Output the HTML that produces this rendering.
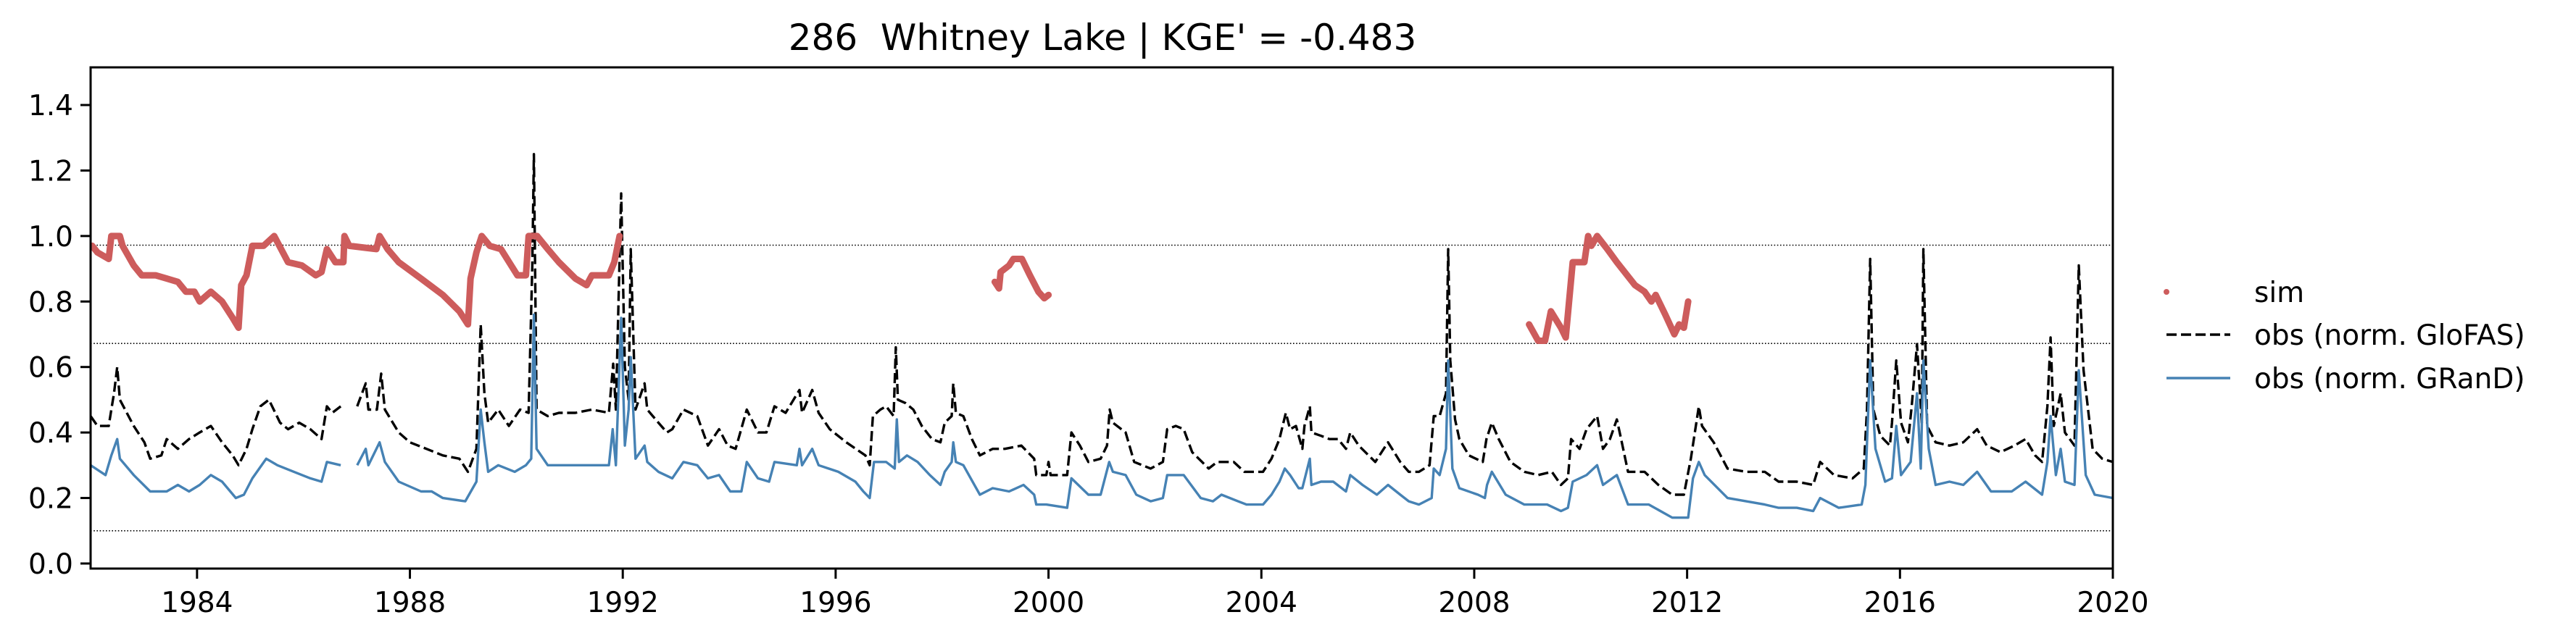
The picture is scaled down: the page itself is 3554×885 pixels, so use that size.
<!DOCTYPE html>
<html><head><meta charset="utf-8"><style>
html,body{margin:0;padding:0;background:#fff;}
svg{display:block;font-family:"DejaVu Sans","Liberation Sans",sans-serif;}
</style></head><body>
<svg id="chart" width="3554" height="885" viewBox="0 0 3554 885" xmlns="http://www.w3.org/2000/svg">
<rect x="0" y="0" width="3554" height="885" fill="#fff"/>
<text x="1521" y="69" font-size="50" text-anchor="middle" fill="#000" style="white-space:pre" xml:space="preserve">286  Whitney Lake | KGE' = -0.483</text>
<g id="grid"></g>
<g id="series"></g>
<g id="axes"></g>
<g id="legend">
  <circle cx="2989" cy="403" r="4" fill="#cd5c5c"/>
  <text x="3110" y="417" font-size="39" fill="#000">sim</text>
  <line x1="2989" y1="462" x2="3077" y2="462" stroke="#000" stroke-width="3.5" stroke-dasharray="14,6"/>
  <text x="3110" y="476" font-size="39" fill="#000">obs (norm. GloFAS)</text>
  <line x1="2989" y1="522" x2="3077" y2="522" stroke="#4682b4" stroke-width="3.5"/>
  <text x="3110" y="536" font-size="39" fill="#000">obs (norm. GRanD)</text>
</g>
</svg>
<script>
const xTicks = [1984, 1988, 1992, 1996, 2000, 2004, 2008, 2012, 2016, 2020];
const yTicks = [0.0, 0.2, 0.4, 0.6, 0.8, 1.0, 1.2, 1.4];
const refLevels = [0.972, 0.672, 0.10];

const simYears = [1982.03,1982.13,1982.34,1982.39,1982.55,1982.60,1982.81,1982.96,1983.22,1983.43,1983.64,1983.79,1983.95,1984.05,1984.26,1984.47,1984.67,1984.78,1984.83,1984.93,1985.04,1985.25,1985.45,1985.71,1985.97,1986.23,1986.34,1986.44,1986.60,1986.75,1986.77,1986.86,1987.37,1987.43,1987.58,1987.79,1988.21,1988.62,1988.93,1989.09,1989.14,1989.25,1989.35,1989.50,1989.71,1990.02,1990.18,1990.23,1990.39,1990.59,1990.80,1991.11,1991.32,1991.42,1991.74,1991.84,1991.94,
 null,
 1998.99,1999.07,1999.10,1999.26,1999.34,1999.50,1999.65,1999.81,1999.92,2000.0,
 null,
 2009.03,2009.20,2009.33,2009.44,2009.63,2009.72,2009.85,2010.07,2010.14,2010.20,2010.31,2010.50,2010.68,2011.02,2011.20,2011.33,2011.41,2011.59,2011.76,2011.85,2011.94,2012.02];
const simValues = [0.97,0.95,0.93,1.00,1.00,0.97,0.91,0.88,0.88,0.87,0.86,0.83,0.83,0.80,0.83,0.80,0.75,0.72,0.85,0.88,0.97,0.97,1.00,0.92,0.91,0.88,0.89,0.96,0.92,0.92,1.00,0.97,0.96,1.00,0.96,0.92,0.87,0.82,0.77,0.73,0.87,0.95,1.00,0.97,0.96,0.88,0.88,1.00,1.00,0.96,0.92,0.87,0.85,0.88,0.88,0.92,1.00,
 null,
 0.86,0.84,0.89,0.91,0.93,0.93,0.88,0.83,0.81,0.82,
 null,
 0.73,0.68,0.68,0.77,0.72,0.69,0.92,0.92,1.00,0.97,1.00,0.96,0.92,0.85,0.83,0.80,0.82,0.76,0.70,0.73,0.72,0.80];

const glofasYears = [1982.0,1982.13,1982.34,1982.39,1982.44,1982.50,1982.55,1982.81,1983.01,1983.12,1983.33,1983.43,1983.64,1983.85,1984.05,1984.26,1984.47,1984.67,1984.78,1984.93,1985.04,1985.19,1985.35,1985.56,1985.71,1985.92,1986.13,1986.34,1986.44,1986.54,1986.70,
 null,
 1987.01,1987.17,1987.22,1987.38,1987.46,1987.53,1987.79,1988.0,1988.31,1988.62,1988.93,1989.09,1989.25,1989.33,1989.40,1989.47,1989.66,1989.86,1990.07,1990.23,1990.30,1990.33,1990.38,1990.59,1990.80,1991.11,1991.42,1991.74,1991.82,1991.87,1991.97,1992.04,1992.11,1992.15,1992.24,1992.41,1992.46,1992.67,1992.83,1992.93,1993.14,1993.40,1993.60,1993.81,1993.97,1994.12,1994.33,1994.54,1994.70,1994.85,1995.06,1995.32,1995.37,1995.56,1995.68,1995.89,1996.20,1996.56,1996.64,1996.70,1996.84,1996.95,1997.09,1997.13,1997.17,1997.31,1997.46,1997.62,1997.81,1997.97,1998.05,1998.18,1998.21,1998.26,1998.40,1998.56,1998.71,1998.95,1999.18,1999.49,1999.73,1999.77,1999.96,2000.0,2000.04,2000.35,2000.43,2000.59,2000.75,2000.98,2001.10,2001.15,2001.21,2001.45,2001.61,2001.92,2002.15,2002.23,2002.39,2002.54,2002.70,2003.01,2003.17,2003.48,2003.68,2004.03,2004.19,2004.34,2004.46,2004.54,2004.65,2004.77,2004.81,2004.91,2004.94,2005.12,2005.28,2005.44,2005.59,2005.67,2005.83,2006.14,2006.30,2006.38,2006.61,2006.77,2006.96,2007.16,2007.24,2007.35,2007.47,2007.51,2007.55,2007.64,2007.72,2007.90,2008.16,2008.23,2008.33,2008.46,2008.68,2008.94,2009.20,2009.46,2009.63,2009.76,2009.82,2009.98,2010.11,2010.31,2010.42,2010.55,2010.68,2010.76,2010.89,2011.20,2011.46,2011.72,2011.94,2012.07,2012.22,2012.28,2012.50,2012.76,2013.11,2013.46,2013.72,2014.06,2014.37,2014.50,2014.76,2015.11,2015.32,2015.38,2015.44,2015.50,2015.63,2015.81,2015.85,2015.93,2016.02,2016.15,2016.22,2016.32,2016.41,2016.44,2016.51,2016.67,2016.93,2017.19,2017.45,2017.63,2017.89,2018.15,2018.36,2018.54,2018.67,2018.77,2018.83,2018.89,2019.02,2019.10,2019.28,2019.36,2019.45,2019.62,2019.80,2020.0];
const glofasValues = [0.45,0.42,0.42,0.47,0.52,0.60,0.50,0.42,0.37,0.32,0.33,0.38,0.35,0.38,0.40,0.42,0.37,0.33,0.30,0.35,0.41,0.48,0.50,0.43,0.41,0.43,0.41,0.38,0.48,0.46,0.48,
 null,
 0.48,0.55,0.47,0.47,0.58,0.47,0.40,0.37,0.35,0.33,0.32,0.28,0.35,0.73,0.52,0.43,0.47,0.42,0.47,0.46,0.91,1.25,0.47,0.45,0.46,0.46,0.47,0.46,0.61,0.47,1.13,0.60,0.50,0.96,0.47,0.55,0.47,0.43,0.40,0.41,0.47,0.45,0.36,0.41,0.36,0.35,0.47,0.40,0.40,0.48,0.46,0.53,0.46,0.53,0.46,0.41,0.37,0.33,0.30,0.45,0.47,0.48,0.45,0.66,0.50,0.49,0.47,0.42,0.38,0.37,0.43,0.45,0.55,0.46,0.45,0.38,0.33,0.35,0.35,0.36,0.32,0.27,0.27,0.31,0.27,0.27,0.40,0.36,0.31,0.32,0.36,0.47,0.43,0.40,0.31,0.29,0.31,0.41,0.42,0.41,0.34,0.29,0.31,0.31,0.28,0.28,0.32,0.38,0.46,0.41,0.42,0.35,0.42,0.48,0.40,0.39,0.38,0.38,0.35,0.40,0.36,0.31,0.35,0.37,0.31,0.28,0.28,0.30,0.45,0.45,0.52,0.96,0.62,0.44,0.38,0.33,0.31,0.38,0.43,0.38,0.31,0.28,0.27,0.28,0.24,0.26,0.38,0.35,0.41,0.45,0.35,0.38,0.44,0.38,0.28,0.28,0.24,0.21,0.21,0.32,0.48,0.42,0.37,0.29,0.28,0.28,0.25,0.25,0.24,0.31,0.27,0.26,0.29,0.47,0.93,0.47,0.39,0.36,0.43,0.62,0.43,0.37,0.48,0.67,0.43,0.96,0.42,0.37,0.36,0.37,0.41,0.36,0.34,0.36,0.38,0.33,0.31,0.48,0.69,0.42,0.52,0.40,0.36,0.91,0.59,0.35,0.32,0.31];

const grandYears = [1982.0,1982.28,1982.39,1982.50,1982.55,1982.81,1983.12,1983.43,1983.64,1983.85,1984.05,1984.26,1984.47,1984.73,1984.88,1985.04,1985.30,1985.51,1985.82,1986.13,1986.34,1986.44,1986.70,
 null,
 1987.01,1987.17,1987.22,1987.43,1987.53,1987.79,1988.21,1988.41,1988.62,1989.04,1989.25,1989.33,1989.40,1989.47,1989.66,1989.97,1990.18,1990.28,1990.33,1990.38,1990.59,1991.11,1991.42,1991.74,1991.81,1991.87,1991.97,1992.04,1992.11,1992.15,1992.24,1992.41,1992.46,1992.67,1992.93,1993.14,1993.40,1993.60,1993.81,1994.02,1994.23,1994.33,1994.54,1994.75,1994.85,1995.27,1995.32,1995.37,1995.56,1995.68,1996.05,1996.37,1996.52,1996.64,1996.72,1996.95,1997.11,1997.15,1997.19,1997.34,1997.54,1997.77,1997.97,1998.05,1998.18,1998.21,1998.26,1998.40,1998.71,1998.95,1999.26,1999.53,1999.73,1999.77,1999.96,2000.35,2000.43,2000.75,2000.98,2001.14,2001.21,2001.45,2001.65,2001.92,2002.15,2002.23,2002.54,2002.86,2003.09,2003.25,2003.56,2003.72,2004.03,2004.19,2004.34,2004.44,2004.54,2004.70,2004.77,2004.91,2004.94,2005.12,2005.35,2005.59,2005.67,2005.90,2006.17,2006.38,2006.61,2006.77,2006.96,2007.20,2007.24,2007.35,2007.47,2007.51,2007.59,2007.72,2008.07,2008.20,2008.24,2008.33,2008.59,2008.94,2009.37,2009.63,2009.76,2009.85,2010.11,2010.31,2010.42,2010.68,2010.89,2011.28,2011.72,2012.02,2012.11,2012.22,2012.33,2012.76,2013.11,2013.46,2013.72,2014.06,2014.37,2014.50,2014.85,2015.28,2015.35,2015.44,2015.54,2015.72,2015.85,2015.93,2016.02,2016.20,2016.32,2016.39,2016.44,2016.54,2016.67,2016.93,2017.19,2017.45,2017.71,2018.10,2018.36,2018.67,2018.77,2018.83,2018.93,2019.02,2019.10,2019.28,2019.36,2019.49,2019.66,2020.0];
const grandValues = [0.30,0.27,0.33,0.38,0.32,0.27,0.22,0.22,0.24,0.22,0.24,0.27,0.25,0.20,0.21,0.26,0.32,0.30,0.28,0.26,0.25,0.31,0.30,
 null,
 0.30,0.35,0.30,0.37,0.31,0.25,0.22,0.22,0.20,0.19,0.25,0.47,0.37,0.28,0.30,0.28,0.30,0.32,0.76,0.35,0.30,0.30,0.30,0.30,0.41,0.30,0.75,0.36,0.47,0.63,0.32,0.36,0.31,0.28,0.26,0.31,0.30,0.26,0.27,0.22,0.22,0.31,0.26,0.25,0.31,0.30,0.35,0.30,0.35,0.30,0.28,0.25,0.22,0.20,0.31,0.31,0.29,0.44,0.31,0.33,0.31,0.27,0.24,0.28,0.31,0.37,0.31,0.30,0.21,0.23,0.22,0.24,0.21,0.18,0.18,0.17,0.26,0.21,0.21,0.31,0.28,0.27,0.21,0.19,0.20,0.27,0.27,0.20,0.19,0.21,0.19,0.18,0.18,0.21,0.25,0.29,0.27,0.23,0.23,0.32,0.24,0.25,0.25,0.22,0.27,0.24,0.21,0.24,0.21,0.19,0.18,0.20,0.29,0.27,0.35,0.62,0.29,0.23,0.21,0.20,0.24,0.28,0.21,0.18,0.18,0.16,0.17,0.25,0.27,0.30,0.24,0.27,0.18,0.18,0.14,0.14,0.26,0.31,0.27,0.20,0.19,0.18,0.17,0.17,0.16,0.20,0.17,0.18,0.24,0.62,0.35,0.25,0.26,0.42,0.27,0.31,0.52,0.29,0.62,0.35,0.24,0.25,0.24,0.28,0.22,0.22,0.25,0.21,0.31,0.45,0.27,0.35,0.25,0.24,0.59,0.27,0.21,0.20];

const AX = {left:125, right:2915, top:93, bottom:785};
const X0 = 1982.0, X1 = 2020.0, Y0 = -0.0155, Y1 = 1.515;
function xScale(v){ return AX.left + (v - X0) / (X1 - X0) * (AX.right - AX.left); }
function yScale(v){ return AX.bottom - (v - Y0) / (Y1 - Y0) * (AX.bottom - AX.top); }
const NS = 'http://www.w3.org/2000/svg';
function mk(tag, attrs, parent){
  const e = document.createElementNS(NS, tag);
  for (const k in attrs) e.setAttribute(k, attrs[k]);
  parent.appendChild(e);
  return e;
}
function pathFrom(xs, ys){
  let d = '', pen = false;
  for (let i = 0; i < xs.length; i++){
    if (xs[i] === null || ys[i] === null){ pen = false; continue; }
    d += (pen ? 'L' : 'M') + xScale(xs[i]).toFixed(1) + ',' + yScale(ys[i]).toFixed(1);
    pen = true;
  }
  return d;
}
const grid = document.getElementById('grid');
refLevels.forEach(function(v){
  const l = mk('line', {x1:AX.left, x2:AX.right, y1:yScale(v), y2:yScale(v), stroke:'#000', 'stroke-width':1.6, 'stroke-dasharray':'1.6,2.6'}, grid);
  
  
});
const series = document.getElementById('series');
const clip = mk('clipPath', {id:'plotclip'}, series);
mk('rect', {x:AX.left, y:AX.top, width:AX.right-AX.left, height:AX.bottom-AX.top}, clip);
const gG = mk('path', {d:pathFrom(glofasYears, glofasValues), fill:'none', stroke:'#000', 'stroke-width':3.4, 'stroke-dasharray':'14,6', 'stroke-linejoin':'round', 'clip-path':'url(#plotclip)'}, series);


const gR = mk('path', {d:pathFrom(grandYears, grandValues), fill:'none', stroke:'#4682b4', 'stroke-width':3.4, 'stroke-linejoin':'round', 'clip-path':'url(#plotclip)'}, series);


const gS = mk('path', {d:pathFrom(simYears, simValues), fill:'none', stroke:'#cd5c5c', 'stroke-width':9, 'stroke-linecap':'round', 'stroke-linejoin':'round', 'clip-path':'url(#plotclip)'}, series);



const axes = document.getElementById('axes');
const frame = mk('rect', {x:AX.left, y:AX.top, width:AX.right-AX.left, height:AX.bottom-AX.top, fill:'none', stroke:'#000', 'stroke-width':3}, axes);


yTicks.forEach(function(v){
  const y = yScale(v);
  const t = mk('line', {x1:AX.left-14, x2:AX.left, y1:y, y2:y, stroke:'#000', 'stroke-width':3}, axes);
  
  
  const lb = mk('text', {x:AX.left-24, y:y+14, 'font-size':39, 'text-anchor':'end', fill:'#000'}, axes);
  lb.textContent = v.toFixed(1);
  
  
});
xTicks.forEach(function(v){
  const x = xScale(v);
  const t = mk('line', {x1:x, x2:x, y1:AX.bottom, y2:AX.bottom+14, stroke:'#000', 'stroke-width':3}, axes);
  
  
  const lb = mk('text', {x:x, y:AX.bottom+60, 'font-size':39, 'text-anchor':'middle', fill:'#000'}, axes);
  lb.textContent = String(v);
  
  
});
</script>
</body></html>
